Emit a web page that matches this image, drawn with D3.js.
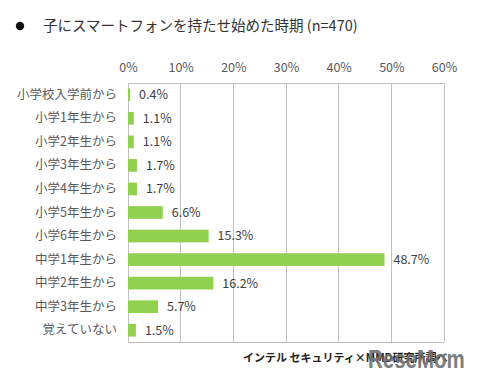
<!DOCTYPE html>
<html><head><meta charset="utf-8">
<script src="https://cdn.jsdelivr.net/npm/d3@7"></script>
<style>body{margin:0;background:#fff}</style>
</head><body>
<svg id="c" width="478" height="382"></svg>
<script>
const categories = ["小学校入学前から","小学1年生から","小学2年生から","小学3年生から","小学4年生から","小学5年生から","小学6年生から","中学1年生から","中学2年生から","中学3年生から","覚えていない"];
const values = [0.4,1.1,1.1,1.7,1.7,6.6,15.3,48.7,16.2,5.7,1.5];
const tickValues = [0,10,20,30,40,50,60];
const title = "子にスマートフォンを持たせ始めた時期 (n=470)";
const source = "インテル セキュリティ×MMD研究所調べ";
const watermark = "ReseMom";

const svg = d3.select("#c");
const font = "'Noto Sans CJK JP', 'Noto Sans', sans-serif";
const m = {left:128, right:444, top:83, bottom:342};
const x = d3.scaleLinear().domain([0,60]).range([m.left, m.right]);
const y = d3.scaleBand().domain(categories).range([m.top, m.bottom]).paddingInner(0.46).paddingOuter(0.23);

// title
svg.append("circle").attr("cx",20).attr("cy",26).attr("r",4.2).attr("fill","#111");
svg.append("text").attr("x",43).attr("y",31).attr("font-family",font).attr("font-size",14.5).attr("fill","#333").text(title);

// grid
svg.append("g").selectAll("line").data(tickValues).join("line")
  .attr("x1",d=>x(d)).attr("x2",d=>x(d)).attr("y1",m.top).attr("y2",m.bottom)
  .attr("stroke","#c0c0c0").attr("stroke-width",1).attr("shape-rendering","crispEdges");
svg.append("line").attr("x1",m.left).attr("x2",m.right).attr("y1",m.top).attr("y2",m.top).attr("stroke","#c0c0c0").attr("shape-rendering","crispEdges");
svg.append("line").attr("x1",m.left).attr("x2",m.right).attr("y1",m.bottom).attr("y2",m.bottom).attr("stroke","#c0c0c0").attr("shape-rendering","crispEdges");

// top axis
const ax = svg.append("g").attr("transform",`translate(0,${m.top})`)
  .call(d3.axisTop(x).tickValues(tickValues).tickFormat(d=>d+"%").tickSize(0).tickPadding(11));
ax.select(".domain").remove();
ax.selectAll("text").attr("font-family",font).attr("font-size",12.5).attr("fill","#595959");

// left axis labels
const ay = svg.append("g").attr("transform",`translate(${m.left-11},0)`)
  .call(d3.axisLeft(y).tickSize(0).tickPadding(0));
ay.select(".domain").remove();
ay.selectAll("text").attr("font-family",font).attr("font-size",12.5).attr("fill","#595959");

// bars
svg.append("g").selectAll("rect").data(values).join("rect")
  .attr("x",x(0)).attr("y",(d,i)=>y(categories[i]))
  .attr("width",d=>x(d)-x(0)).attr("height",y.bandwidth())
  .attr("fill","#92d050");

// value labels
svg.append("g").selectAll("text").data(values).join("text")
  .attr("x",d=>x(d)+9).attr("y",(d,i)=>y(categories[i])+y.bandwidth()/2)
  .attr("dy","0.35em").attr("font-family",font).attr("font-size",12.5).attr("fill","#404040")
  .text(d=>d.toFixed(1)+"%");

// source
svg.append("text").attr("x",243).attr("y",362)
  .attr("font-family",font).attr("font-size",11).attr("font-weight","bold").attr("fill","#222").text(source);
// watermark
svg.append("text").attr("transform","translate(368,368) scale(0.82,1)")
  .attr("font-family","'Liberation Sans','DejaVu Sans',sans-serif")
  .attr("font-size",25).attr("font-weight","bold").attr("fill","#707070").attr("opacity",0.9)
  .text(watermark);
</script>
</body></html>
